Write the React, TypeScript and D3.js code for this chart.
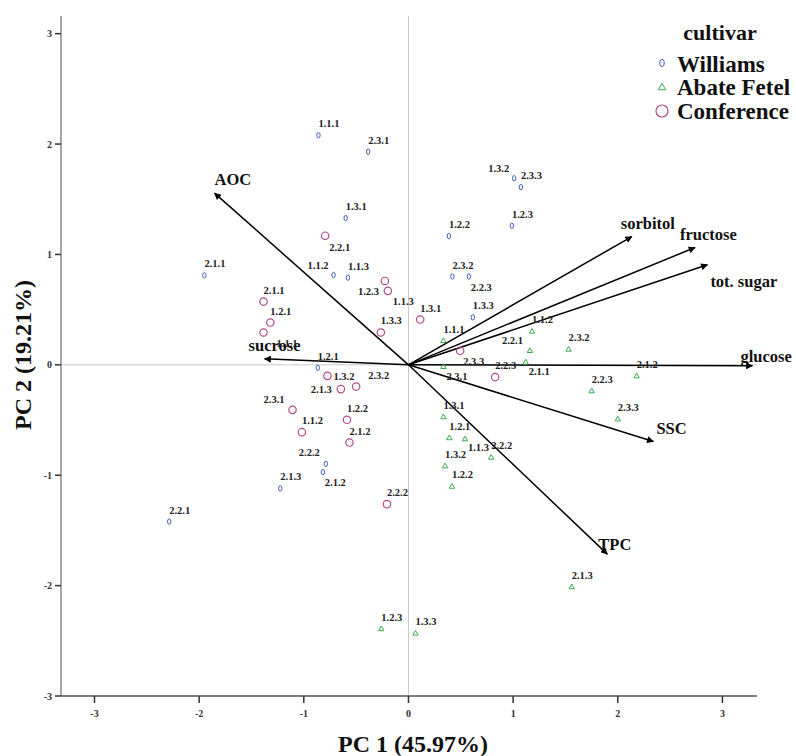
import React from 'react';
import { scaleLinear } from 'd3';

// PCA scores
const williamsLabels = ['1.1.1', '2.3.1', '1.3.1', '2.1.1', '1.1.2', '1.1.3', '1.2.1', '2.2.2', '2.1.2', '2.1.3', '2.2.1', '1.3.2', '2.3.3', '1.2.3', '1.2.2', '2.3.2', '2.2.3', '1.3.3'];
const williamsPC1 = [-0.86, -0.385, -0.6, -1.95, -0.716, -0.579, -0.867, -0.79, -0.818, -1.225, -2.286, 1.01, 1.074, 0.988, 0.386, 0.42, 0.577, 0.615];
const williamsPC2 = [2.08, 1.93, 1.33, 0.81, 0.813, 0.79, -0.027, -0.897, -0.972, -1.12, -1.42, 1.69, 1.61, 1.26, 1.166, 0.8, 0.8, 0.43];

const abateLabels = ['1.1.1', '1.1.2', '2.2.1', '2.3.2', '2.3.1', '2.1.1', '2.1.2', '2.2.3', '1.3.1', '2.3.3', '1.2.1', '1.1.3', '2.2.2', '1.3.2', '1.2.2', '2.1.3', '1.3.3', '1.2.3'];
const abatePC1 = [0.334, 1.18, 1.16, 1.53, 0.334, 1.12, 2.18, 1.75, 0.334, 2.0, 0.39, 0.54, 0.79, 0.35, 0.415, 1.56, 0.067, -0.26];
const abatePC2 = [0.22, 0.305, 0.13, 0.142, -0.015, 0.025, -0.1, -0.235, -0.47, -0.49, -0.66, -0.67, -0.836, -0.915, -1.1, -2.01, -2.43, -2.39];

const conferenceLabels = ['2.2.1', '1.2.3', '1.1.3', '1.3.3', '2.1.1', '1.2.1', '1.1.1', '1.3.1', '2.3.3', '2.2.3', '1.3.2', '2.1.3', '2.3.2', '2.3.1', '1.1.2', '1.2.2', '2.1.2', '2.2.2'];
const conferencePC1 = [-0.796, -0.225, -0.197, -0.264, -1.385, -1.32, -1.385, 0.112, 0.494, 0.828, -0.774, -0.646, -0.5, -1.108, -1.018, -0.588, -0.564, -0.206];
const conferencePC2 = [1.17, 0.76, 0.67, 0.293, 0.573, 0.383, 0.293, 0.41, 0.127, -0.111, -0.1, -0.22, -0.197, -0.408, -0.61, -0.498, -0.704, -1.262];

// variable loadings (arrows)
const loadingNames = ['AOC', 'sucrose', 'sorbitol', 'fructose', 'tot. sugar', 'glucose', 'SSC', 'TPC'];
const loadingPC1 = [-1.853, -1.375, 2.134, 2.738, 2.856, 3.286, 2.34, 1.9];
const loadingPC2 = [1.555, 0.054, 1.162, 1.063, 0.906, -0.009, -0.695, -1.715];

const xTicks = [-3, -2, -1, 0, 1, 2, 3];
const yTicks = [-3, -2, -1, 0, 1, 2, 3];

const cultivars = ['Williams', 'Abate Fetel', 'Conference'];

// label placement tweaks (dx, dy from marker), default is above
const labelShift: Record<string, [number, number]> = {
  'W1.1.2': [-26, -6],
  'W2.2.2': [-27, -7.5],
  'W2.1.2': [2, 14],
  'W1.3.2': [-26, -6],
  'W2.2.3': [2, 14],
  'C2.2.1': [4, 15],
  'C1.2.3': [-27, 14.5],
  'C1.1.3': [5, 14.5],
  'C1.1.1': [13, 15],
  'C1.3.2': [6, 4.5],
  'C2.1.3': [-30, 4],
  'C2.3.2': [12, -8],
  'C2.3.1': [-29, -6.5],
  'C2.3.3': [3, 14],
  'A2.2.1': [-28, -6],
  'A2.3.1': [3, 14],
  'A2.1.1': [3, 13],
  'A1.1.3': [3, 12.5],
};

const arrowLabelShift: Record<string, [number, number]> = {
  AOC: [0, -8],
  sucrose: [-16, -8],
  sorbitol: [-11, -8],
  fructose: [-15, -7],
  'tot. sugar': [3, 22],
  glucose: [-12, -4],
  SSC: [3, -8],
  TPC: [-9, -4],
};

const BLUE = '#3f5fb5';
const GREEN = '#3daa4f';
const PURPLE = '#b04a8a';
const FONT = '"Liberation Serif", "Times New Roman", serif';

const x = scaleLinear().domain([-3.32, 3.33]).range([61, 757]);
const y = scaleLinear().domain([-3, 3.16]).range([696, 16]);

function Marker({ kind, cx, cy, big }: { kind: string; cx: number; cy: number; big?: boolean }) {
  const k = big ? 1.35 : 1;
  if (kind === 'W') {
    return <ellipse cx={cx} cy={cy} rx={1.7 * k} ry={2.7 * k} fill="none" stroke={BLUE} strokeWidth={1} />;
  }
  if (kind === 'A') {
    const s = 2.7 * k;
    return (
      <path
        d={`M${cx},${cy - s}L${cx + s},${cy + s * 0.75}L${cx - s},${cy + s * 0.75}Z`}
        fill="none"
        stroke={GREEN}
        strokeWidth={1}
      />
    );
  }
  return <circle cx={cx} cy={cy} r={big ? 6 : 3.7} fill="none" stroke={PURPLE} strokeWidth={1.2} />;
}

export default function App() {
  const groups = [
    { kind: 'W', labels: williamsLabels, pc1: williamsPC1, pc2: williamsPC2 },
    { kind: 'A', labels: abateLabels, pc1: abatePC1, pc2: abatePC2 },
    { kind: 'C', labels: conferenceLabels, pc1: conferencePC1, pc2: conferencePC2 },
  ];
  const x0 = x(0);
  const y0 = y(0);

  return (
    <svg width={796} height={756} style={{ position: 'absolute', left: 0, top: 0, background: '#fff' }} fontFamily={FONT}>
      <defs>
        <marker id="head" viewBox="0 0 10 10" refX="9" refY="5" markerWidth="8" markerHeight="7" markerUnits="userSpaceOnUse" orient="auto">
          <path d="M0,0L10,5L0,10Z" fill="#000" />
        </marker>
      </defs>

      {/* zero reference lines */}
      <line x1={x0} x2={x0} y1={16} y2={696} stroke="#c8c8c8" strokeWidth={1} />
      <line x1={61} x2={757} y1={y0} y2={y0} stroke="#c8c8c8" strokeWidth={1} />

      {/* axes */}
      <line x1={61} x2={61} y1={16} y2={696} stroke="#6a6a6a" strokeWidth={1.2} />
      <line x1={61} x2={757} y1={696} y2={696} stroke="#555" strokeWidth={1.3} />
      {xTicks.map((t) => (
        <g key={'x' + t}>
          <line x1={x(t)} x2={x(t)} y1={696} y2={703} stroke="#333" strokeWidth={1.5} />
          <text x={x(t)} y={717} textAnchor="middle" fontSize={10} fontWeight="bold" fill="#333">
            {t}
          </text>
        </g>
      ))}
      {yTicks.map((t) => (
        <g key={'y' + t}>
          <line x1={55} x2={61} y1={y(t)} y2={y(t)} stroke="#333" strokeWidth={1.5} />
          <text x={52} y={y(t) + 3.5} textAnchor="end" fontSize={10} fontWeight="bold" fill="#333">
            {t}
          </text>
        </g>
      ))}

      {/* loadings */}
      {loadingNames.map((name, i) => {
        const tx = x(loadingPC1[i]);
        const ty = y(loadingPC2[i]);
        const [dx, dy] = arrowLabelShift[name];
        return (
          <g key={name}>
            <line x1={x0} y1={y0} x2={tx} y2={ty} stroke="#000" strokeWidth={1.5} markerEnd="url(#head)" />
            <text x={tx + dx} y={ty + dy} fontSize={16.5} fontWeight="bold" fill="#111">
              {name}
            </text>
          </g>
        );
      })}

      {/* scores */}
      {groups.map((g) =>
        g.labels.map((lab, i) => {
          const cx = x(g.pc1[i]);
          const cy = y(g.pc2[i]);
          const [dx, dy] = labelShift[g.kind + lab] || [0, -8];
          return (
            <g key={g.kind + lab}>
              <Marker kind={g.kind} cx={cx} cy={cy} />
              <text x={cx + dx} y={cy + dy} fontSize={10.5} fontWeight="bold" fill="#222">
                {lab}
              </text>
            </g>
          );
        })
      )}

      {/* legend */}
      <text x={720} y={40} textAnchor="middle" fontSize={22} fontWeight="bold" fill="#111">
        cultivar
      </text>
      {cultivars.map((c, i) => (
        <g key={c}>
          <Marker kind={['W', 'A', 'C'][i]} cx={662} cy={63 + i * 24} big />
          <text x={677} y={71.5 + i * 23.5} fontSize={23} fontWeight="bold" fill="#111">
            {c}
          </text>
        </g>
      ))}

      {/* axis titles */}
      <text x={413} y={752} textAnchor="middle" fontSize={24} fontWeight="bold" fill="#111">
        PC 1 (45.97%)
      </text>
      <text transform="translate(31,355) rotate(-90)" textAnchor="middle" fontSize={24} fontWeight="bold" fill="#111">
        PC 2 (19.21%)
      </text>
    </svg>
  );
}
